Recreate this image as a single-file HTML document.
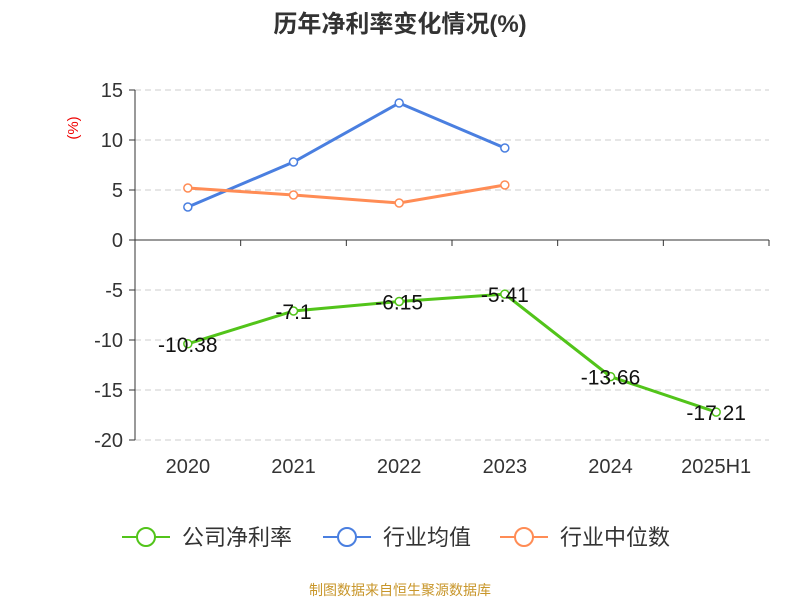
<!DOCTYPE html>
<html><head><meta charset="utf-8"><style>
body{margin:0;background:#fff;}
svg text{font-family:"Liberation Sans","Noto Sans CJK SC",sans-serif;}
</style></head><body>
<svg id="chart" width="800" height="600" xmlns="http://www.w3.org/2000/svg">
<text x="400" y="32" text-anchor="middle" font-size="24" font-weight="bold" fill="#333">历年净利率变化情况(%)</text>
<text transform="translate(78,128) rotate(-90)" text-anchor="middle" font-size="15" fill="#e00">(%)</text>
<g id="grid"></g><g id="axes"></g><g id="series"></g>
<g>
<g><line x1="122" y1="537" x2="170" y2="537" stroke="#52c41a" stroke-width="2"/><circle cx="146" cy="537" r="9" fill="#fff" stroke="#52c41a" stroke-width="2"/><text x="182" y="545" font-size="22" fill="#333">公司净利率</text></g>
<g><line x1="323" y1="537" x2="371" y2="537" stroke="#4a7fe0" stroke-width="2"/><circle cx="347" cy="537" r="9" fill="#fff" stroke="#4a7fe0" stroke-width="2"/><text x="383" y="545" font-size="22" fill="#333">行业均值</text></g>
<g><line x1="500" y1="537" x2="548" y2="537" stroke="#ff8c55" stroke-width="2"/><circle cx="524" cy="537" r="9" fill="#fff" stroke="#ff8c55" stroke-width="2"/><text x="560" y="545" font-size="22" fill="#333">行业中位数</text></g>
</g>
<text x="400" y="595" text-anchor="middle" font-size="14" fill="#c8962a">制图数据来自恒生聚源数据库</text>
</svg>
<script>
const categories=["2020","2021","2022","2023","2024","2025H1"];
const companyValues=[-10.38,-7.1,-6.15,-5.41,-13.66,-17.21];
const industryAvg=[3.3,7.8,13.7,9.2];
const industryMedian=[5.2,4.5,3.7,5.5];
const yTicks=[15,10,5,0,-5,-10,-15,-20];
const NS="http://www.w3.org/2000/svg";
const plotL=135,plotR=769,plotT=90,plotB=440,yMax=15,yMin=-20;
const bw=(plotR-plotL)/categories.length;
const xs=i=>plotL+bw*(i+0.5);
const ys=v=>plotT+(yMax-v)/(yMax-yMin)*(plotB-plotT);
function mk(tag,attrs,parent){const e=document.createElementNS(NS,tag);for(const k in attrs)e.setAttribute(k,attrs[k]);document.getElementById(parent).appendChild(e);return e;}
yTicks.forEach(t=>{
 if(t!==0){const g=mk('line',{x1:plotL,x2:plotR,y1:ys(t),y2:ys(t),stroke:'#ccc','stroke-dasharray':'6,4'},'grid');
 
 }
 const l=mk('text',{x:plotL-12,y:ys(t)+7,'text-anchor':'end','font-size':20,fill:'#333'},'axes');l.textContent=t;
 
 
 mk('line',{x1:plotL-6,x2:plotL,y1:ys(t),y2:ys(t),stroke:'#333'},'axes');
});
const ya=mk('line',{x1:plotL,x2:plotL,y1:plotT,y2:plotB,stroke:'#333'},'axes');


const xa=mk('line',{x1:plotL,x2:plotR,y1:ys(0),y2:ys(0),stroke:'#333'},'axes');


for(let i=0;i<=categories.length;i++)mk('line',{x1:plotL+bw*i,x2:plotL+bw*i,y1:ys(0),y2:ys(0)+6,stroke:'#333'},'axes');
categories.forEach((c,i)=>{const t=mk('text',{x:xs(i),y:473,'text-anchor':'middle','font-size':20,fill:'#333'},'axes');t.textContent=c;
 
 });
function series(vals,color,name,labels){
 const p=mk('polyline',{points:vals.map((v,i)=>xs(i)+','+ys(v)).join(' '),fill:'none',stroke:color,'stroke-width':3},'series');
 
 
 vals.forEach((v,i)=>{const c=mk('circle',{cx:xs(i),cy:ys(v),r:4,fill:'#fff',stroke:color,'stroke-width':1.5},'series');
  
  
  if(labels){const t=mk('text',{x:xs(i),y:ys(v)+8,'text-anchor':'middle','font-size':21,fill:'#111'},'series');t.textContent=v;
  
  }});
}
series(industryAvg,'#4a7fe0','industry-avg',false);
series(industryMedian,'#ff8c55','industry-median',false);
series(companyValues,'#52c41a','company',true);
</script>
</body></html>
